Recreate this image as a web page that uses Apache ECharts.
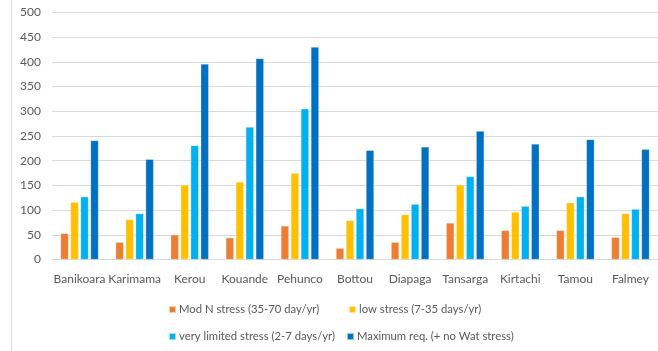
<!DOCTYPE html>
<html>
<head>
<meta charset="utf-8">
<script src="https://cdn.jsdelivr.net/npm/echarts@6/dist/echarts.min.js"></script>
<style>
  html, body { margin: 0; padding: 0; background: #fff; }
  #chart { width: 658px; height: 351px; }
</style>
</head>
<body>
<div id="chart"></div>
<script>
// Sites
const sites = ['Banikoara', 'Karimama', 'Kerou', 'Kouande', 'Pehunco', 'Bottou', 'Diapaga', 'Tansarga', 'Kirtachi', 'Tamou', 'Falmey'];

// Requirement under each stress level
const modNStress = [53, 35, 50, 44, 68, 23, 35, 74, 59, 59, 45];
const lowStress = [116, 81, 151, 157, 175, 79, 91, 151, 96, 115, 93];
const veryLimitedStress = [127, 93, 231, 268, 305, 103, 112, 168, 108, 127, 102];
const maximumReq = [241, 203, 396, 407, 430, 221, 228, 260, 234, 243, 223];

const seriesNames = [
  'Mod N stress (35-70 day/yr)',
  'low stress (7-35 days/yr)',
  'very limited stress (2-7 days/yr)',
  'Maximum req. (+ no Wat stress)'
];
const yTicks = { min: 0, max: 500, interval: 50 };

const colors = ['#ED7D31', '#FFC000', '#00B0F0', '#0070C0'];
const FONT = 'Lato, "Open Sans", sans-serif';
const TEXT = '#595959';

const chart = echarts.init(document.getElementById('chart'), null, { renderer: 'canvas' });

const values = [modNStress, lowStress, veryLimitedStress, maximumReq];
const legendPos = [
  { left: 168, top: 304 },
  { left: 348, top: 304 },
  { left: 168, top: 331 },
  { left: 346, top: 331 }
];

chart.setOption({
  animation: false,
  color: colors,
  textStyle: { fontFamily: FONT },
  grid: { left: 52, top: 12.5, width: 610, height: 247 },
  legend: seriesNames.map((n, i) => ({
    data: [n],
    left: legendPos[i].left,
    top: legendPos[i].top,
    padding: 0,
    icon: 'rect',
    itemWidth: 7,
    itemHeight: 7,
    itemGap: 0,
    selectedMode: false,
    textStyle: { color: TEXT, fontSize: 11.3, fontFamily: FONT, padding: [0, 0, 0, -2] }
  })),
  xAxis: {
    type: 'category',
    data: sites,
    axisLine: { show: true, lineStyle: { color: '#d9d9d9' } },
    axisTick: { show: false },
    axisLabel: { color: TEXT, fontSize: 12, fontFamily: FONT, margin: 14, interval: 0 }
  },
  yAxis: {
    type: 'value',
    min: yTicks.min,
    max: yTicks.max,
    interval: yTicks.interval,
    axisLine: { show: false },
    axisTick: { show: false },
    axisLabel: { color: TEXT, fontSize: 12, fontFamily: FONT, margin: 11 },
    splitLine: { lineStyle: { color: '#d9d9d9', width: 1 } }
  },
  series: seriesNames.map((n, i) => ({
    name: n,
    type: 'bar',
    data: values[i],
    barWidth: 8,
    barGap: '25%',
    itemStyle: { color: colors[i], borderColor: 'rgba(255,255,255,0.6)', borderWidth: 0.5 }
  })),
  graphic: [{
    type: 'line',
    shape: { x1: 11.5, y1: 0, x2: 11.5, y2: 351 },
    style: { stroke: '#d9d9d9', lineWidth: 1 },
    silent: true
  }]
});
</script>
</body>
</html>
